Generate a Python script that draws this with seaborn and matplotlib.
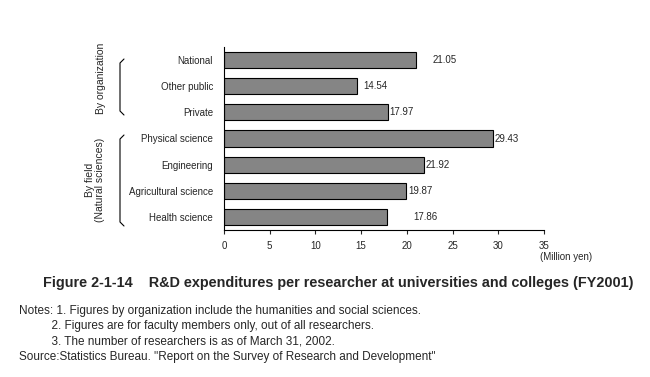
import seaborn as sns
import matplotlib.pyplot as plt
import pandas as pd
from matplotlib.lines import Line2D

# Dados do gráfico
categories = ['National', 'Other public', 'Private', 'Physical science',
              'Engineering', 'Agricultural science', 'Health science']
values = [21.05, 14.54, 17.97, 29.43, 21.92, 19.87, 17.86]
value_labels = ['21.05', '14.54', '17.97', '29.43', '21.92', '19.87', '17.86']
label_offsets = [16, 6, 1, 1, 1, 3, 26]  # deslocamento em pixels
x_ticks = [0, 5, 10, 15, 20, 25, 30, 35]

notes = [
    'Notes: 1. Figures by organization include the humanities and social sciences.',
    '          2. Figures are for faculty members only, out of all researchers.',
    '          3. The number of researchers is as of March 31, 2002.',
    'Source:Statistics Bureau. "Report on the Survey of Research and Development"',
]

df = pd.DataFrame({'category': categories, 'value': values})

sns.set_style('white')
plt.rcParams['font.family'] = ['Liberation Sans', 'DejaVu Sans']

fig = plt.figure(figsize=(6.5, 3.77), dpi=100)
ax = fig.add_axes([224 / 650, 1 - 230 / 377, 320 / 650, 183 / 377])

sns.barplot(data=df, x='value', y='category', orient='h', color='#858585',
            saturation=1, edgecolor='black', linewidth=0.8, width=0.62, ax=ax)

for i, (v, lab, off) in enumerate(zip(values, value_labels, label_offsets)):
    ax.annotate(lab, (v, i), xytext=(off, 0), textcoords='offset pixels',
                va='center', ha='left', fontsize=7)

ax.set_xlim(0, 35)
ax.set_ylim(6.5, -0.5)
ax.set_xticks(x_ticks)
ax.set_xticklabels([str(t) for t in x_ticks], fontsize=7)
ax.tick_params(axis='x', length=3, width=0.8, direction='out', pad=5, bottom=True)
ax.tick_params(axis='y', length=0, labelsize=7, pad=8)
ax.set_xlabel('')
ax.set_ylabel('')
for s in ['top', 'right']:
    ax.spines[s].set_visible(False)
for s in ['left', 'bottom']:
    ax.spines[s].set_color('black')
    ax.spines[s].set_linewidth(0.8)

# Chaves e rótulos de grupo
def bracket(x, y0, y1):
    xs = [x + 4, x, x, x + 4]
    ys = [y0, y0 + 4, y1 - 4, y1]
    fig.add_artist(Line2D([v / 650 for v in xs], [1 - v / 377 for v in ys],
                          color='black', lw=0.8))

bracket(120, 59, 115)
bracket(120, 135, 226)
fig.text(101 / 650, 1 - 78 / 377, 'By organization', rotation=90,
         ha='center', va='center', fontsize=7.5)
fig.text(95 / 650, 1 - 180 / 377, 'By field\n(Natural sciences)', rotation=90,
         ha='center', va='center', fontsize=7.5, linespacing=1.1)

fig.text(540 / 650, 1 - 257 / 377, '(Million yen)', ha='left', va='center', fontsize=7)
fig.text(338 / 650, 1 - 283 / 377,
         'Figure 2-1-14    R&D expenditures per researcher at universities and colleges (FY2001)',
         ha='center', va='center', fontsize=10.4, fontweight='bold')
for k, line in enumerate(notes):
    fig.text(19 / 650, 1 - (311 + 15.3 * k) / 377, line, ha='left', va='center', fontsize=8.5)

fig.savefig('out.png', dpi=100)
